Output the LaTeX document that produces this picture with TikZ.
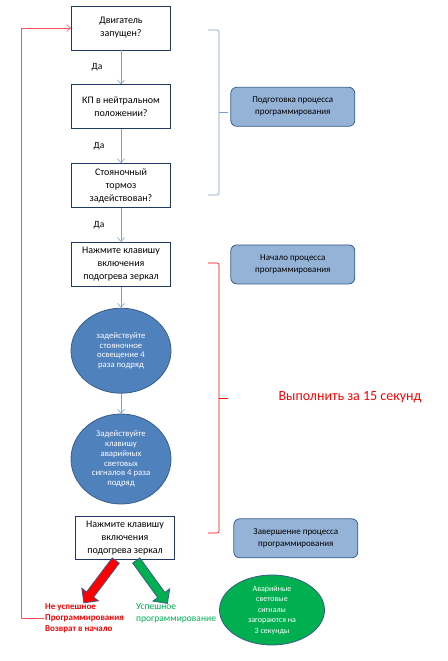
\documentclass[tikz,border=0pt]{standalone}
\usepackage{fontspec}
\setmainfont{Carlito}
\usetikzlibrary{arrows.meta, positioning, shapes.geometric, shapes.arrows}

\definecolor{boxline}{HTML}{1F3864}
\definecolor{flowblue}{HTML}{7BA0CD}
\definecolor{stagefill}{HTML}{95B3D7}
\definecolor{stageline}{HTML}{385D8A}
\definecolor{ovalfill}{HTML}{4F81BD}
\definecolor{okgreen}{HTML}{00B050}
\definecolor{loopred}{HTML}{FF4F5F}

\begin{document}
\begin{tikzpicture}
[x=1pt, y=1pt,
   ->/.style={flowblue, semithick, arrows={-Straight Barb[length=4pt, width=7pt]}},
   question/.style={shape=rectangle, draw=boxline, thick, minimum width=99pt, minimum height=44pt, align=center, inner sep=1pt, font=\fontsize{10}{13}\selectfont},
   stage/.style={shape=rectangle, rounded corners=6pt, draw=stageline, thick, fill=stagefill, minimum width=124pt, minimum height=39pt, align=center, font=\fontsize{9}{12}\selectfont},
   action/.style={shape=ellipse, draw=stageline, thick, fill=ovalfill, text=white, minimum width=100pt, align=center, inner sep=0pt, font=\fontsize{8.7}{9.8}\selectfont},
   bigarrow/.style={shape=single arrow, draw=stageline, thick, minimum height=53pt, single arrow head extend=6pt, inner sep=4pt, anchor=tail},
   yes/.style={left=13pt, text=black, font=\fontsize{9.5}{11}\selectfont}]
\useasboundingbox (0,0) rectangle (447,-661);
% main column
\node[question] (engine) at (121,-28) {Двигатель\\запущен?};
\node[question] (gear) [below=34pt of engine] {КП в нейтральном\\положении?};
\node[question] (brake) [below=34pt of gear] {Стояночный\\тормоз\\задействован?};
\node[question] (mirror) [below=34pt of brake] {Нажмите клавишу\\включения\\подогрева зеркал};
\node[action, minimum height=85pt] (lights) [below=21pt of mirror] {задействуйте\\стояночное\\освещение 4\\раза подряд};
\node[action, minimum height=90pt] (hazard) [below=20pt of lights] {Задействуйте\\клавишу\\аварийных\\световых\\сигналов 4 раза\\подряд};
\node[question, minimum height=43pt] (confirm) [below=12pt of hazard, xshift=4pt] {Нажмите клавишу\\включения\\подогрева зеркал};
\draw [->] (engine) to node[yes, left=15pt] {Да} (gear);
\draw [->] (gear) to node[yes] {Да} (brake);
\draw [->] (brake) to node[yes] {Да} (mirror);
\draw [->] (mirror) to (lights);
\draw [->] (lights) to (hazard);
% stages on the right
\node[stage] (prep) [right=59.5pt of gear] {Подготовка процесса\\программирования};
\node[stage] (start) [right=59.5pt of mirror] {Начало процесса\\программирования};
\node[stage] (finish) [right=58.5pt of confirm] {Завершение процесса\\программирования};
\draw [flowblue, semithick, rounded corners=2pt] (208,-30) -- (219,-30) -- (219,-195) -- (208,-195);
\draw [flowblue, semithick] (219,-112) -- (228,-112);
\draw [red, semithick, rounded corners=2pt] (208,-263) -- (219,-263) -- (219,-533) -- (208,-533);
\draw [red, semithick] (219,-398) -- (228,-398);
\node (timer) at (350,-397) [text=red, font=\fontsize{14}{16}\selectfont] {Выполнить за 15 секунд};
% outcome
\node[bigarrow, fill=red, rotate=-127] (failarrow) at ([xshift=-9pt]confirm.south) {};
\node[bigarrow, fill=okgreen, rotate=-54] (okarrow) at ([xshift=11pt]confirm.south) {};
\node (fail) [anchor=west, align=left, text=red, inner sep=1pt, font=\bfseries\fontsize{9}{11}\selectfont] at (44,-618) {Не успешное\\Программирования\\Возврат в начало};
\node (ok) [anchor=west, align=left, text=okgreen, inner sep=1pt, font=\fontsize{9.5}{12}\selectfont] at (135,-613) {Успешное\\программирование};
\node[action, fill=okgreen, minimum width=105pt, minimum height=70pt, font=\fontsize{8}{10.5}\selectfont] (flash) at (272,-610) {Аварийные\\световые\\сигналы\\загораются на\\3 секунды};
\draw [loopred, semithick, arrows={-Straight Barb[length=4pt, width=7pt]}] (fail.west) -- ++(-23pt,0) |- (engine.west);
\end{tikzpicture}
\end{document}
